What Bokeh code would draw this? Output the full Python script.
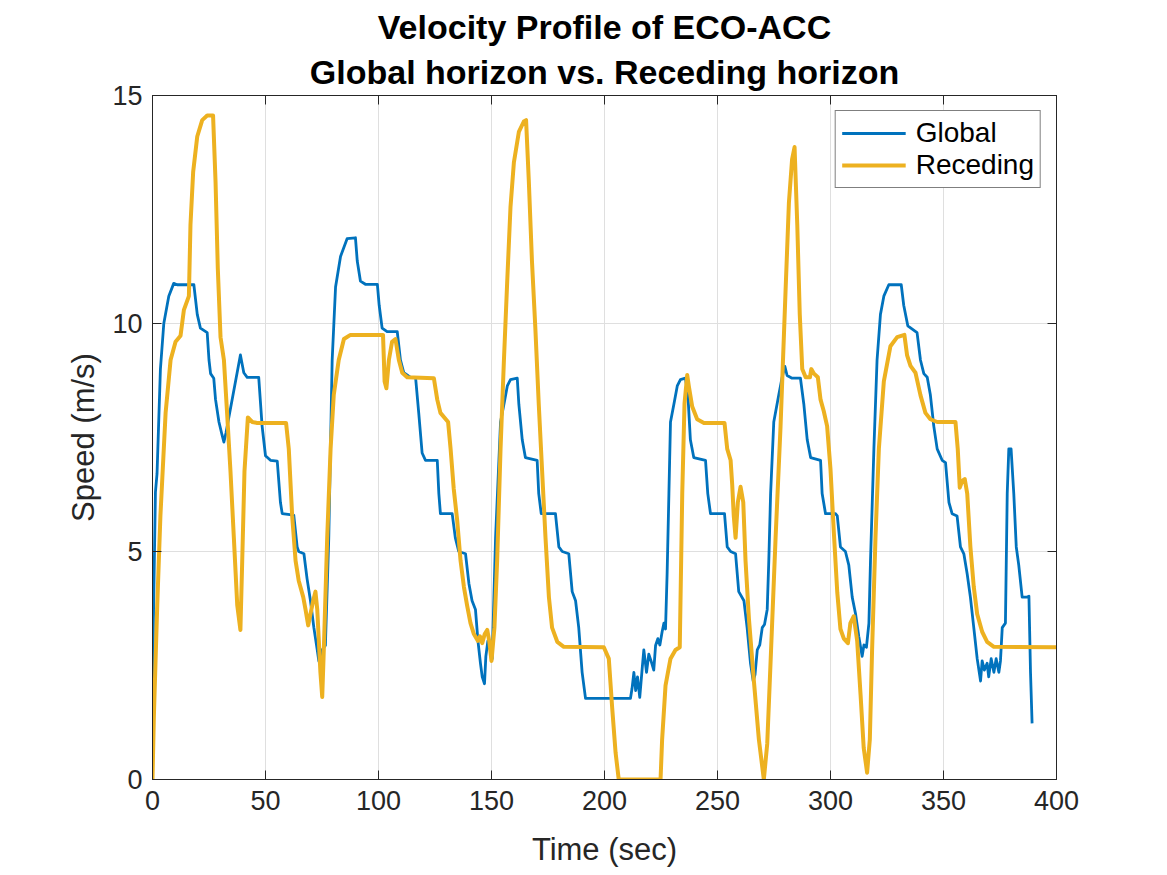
from bokeh.plotting import figure
from bokeh.models import (Range1d, LinearAxis, Title, Legend, LegendItem,
                          FixedTicker, CustomJSTickFormatter)
from bokeh.embed import file_html
from bokeh.resources import INLINE

# ---------------- data ----------------
global_t = [
    0, 0.4, 1.3, 2.0, 3.5, 5.0, 7.2, 9.4, 10.9, 18.3,
    19.8, 21.2, 24.2, 25.0, 25.7, 27.1, 27.9, 29.4, 30.8, 31.6,
    32.5, 38.9, 40.4, 41.9, 47.0, 48.5, 50.0, 52.2, 55.2, 56.6,
    57.4, 62.5, 64.0, 64.7, 67.0, 68.4, 69.9, 71.4, 72.9, 73.6,
    75.0, 76.5, 78.0, 79.5, 81.0, 83.2, 86.1, 89.8, 90.6, 92.0,
    94.2, 99.5, 100.3, 101.6, 103.8, 108.3, 109.7, 111.2, 114.2, 116.4,
    117.8, 119.3, 120.8, 126.0, 126.7, 127.4, 132.6, 134.0, 135.5, 138.5,
    140.0, 141.4, 142.9, 144.0, 145.1, 145.9, 146.9, 147.5, 148.4, 149.4,
    150.3, 151.8, 154.0, 155.5, 157.0, 158.4, 161.4, 162.1, 163.6, 165.0,
    170.2, 170.9, 172.0, 178.3, 179.8, 181.3, 184.2, 185.7, 187.2, 188.6,
    190.1, 191.6, 211.5, 212.2, 213.0, 213.8, 214.6, 215.6, 216.7, 217.4,
    218.6, 219.6, 220.6, 221.8, 222.6, 223.6, 224.5, 225.5, 226.3, 227.0,
    227.7, 228.5, 229.2, 230.7, 232.2, 233.6, 235.8, 236.9, 238.0, 239.5,
    244.7, 245.7, 246.9, 253.1, 254.3, 255.8, 258.0, 259.4, 261.7, 263.1,
    264.6, 265.8, 266.6, 267.6, 268.7, 269.8, 270.8, 272.0, 272.7, 273.5,
    274.9, 277.1, 278.6, 279.8, 280.8, 283.0, 286.7, 288.2, 289.7, 291.2,
    295.6, 296.3, 297.8, 302.2, 303.0, 304.4, 306.6, 308.1, 309.6, 311.1,
    312.5, 314.0, 314.8, 315.9, 317.0, 317.7, 319.2, 320.6, 322.1, 323.6,
    325.8, 331.3, 332.4, 334.2, 338.3, 339.8, 341.3, 342.8, 344.2, 345.7,
    347.2, 349.4, 350.9, 352.4, 353.8, 356.0, 357.5, 359.0, 360.5, 361.9,
    363.4, 364.9, 366.4, 367.1, 368.1, 369.3, 370.0, 371.1, 372.3, 373.3,
    374.5, 375.2, 376.0, 377.4, 378.2, 378.9, 379.9, 381.1, 382.2, 383.3,
    384.8, 387.0, 387.8, 388.5, 389.2,
]
global_v = [
    1.0, 3.5, 6.3, 6.7, 9.0, 10.0, 10.6, 10.88, 10.85, 10.85,
    10.2, 9.9, 9.8, 9.2, 8.9, 8.8, 8.33, 7.84, 7.55, 7.4,
    7.6, 9.31, 8.92, 8.82, 8.82, 7.75, 7.1, 7.0, 6.98, 6.08,
    5.83, 5.8, 5.1, 5.0, 4.95, 4.4, 3.92, 3.33, 2.84, 2.6,
    2.84, 2.94, 5.3, 9.2, 10.8, 11.47, 11.86, 11.88, 11.37, 10.93,
    10.86, 10.86, 10.4, 9.9, 9.82, 9.82, 9.2, 8.92, 8.82, 8.82,
    8.04, 7.16, 7.0, 7.0, 6.27, 5.83, 5.83, 5.3, 5.0, 4.95,
    4.3, 3.92, 3.73, 3.04, 2.55, 2.25, 2.1, 2.7, 3.04, 2.85,
    2.65, 5.3, 7.84, 8.23, 8.63, 8.77, 8.8, 8.23, 7.45, 7.06,
    7.0, 6.27, 5.83, 5.83, 5.1, 5.0, 4.95, 4.12, 3.92, 3.33,
    2.35, 1.78, 1.78, 2.0, 2.35, 1.95, 2.25, 1.8, 2.45, 2.84,
    2.35, 2.75, 2.6, 2.4, 2.94, 3.09, 2.95, 3.24, 3.43, 3.3,
    4.5, 6.27, 7.84, 8.23, 8.63, 8.77, 8.8, 8.43, 7.45, 7.06,
    7.0, 6.27, 5.83, 5.83, 5.1, 5.0, 4.95, 4.12, 3.92, 3.33,
    2.55, 2.16, 2.3, 2.84, 2.95, 3.33, 3.4, 3.73, 4.8, 6.27,
    7.84, 8.43, 8.82, 9.06, 8.86, 8.8, 8.8, 8.23, 7.45, 7.06,
    7.0, 6.27, 5.83, 5.83, 5.78, 5.1, 5.0, 4.7, 4.0, 3.63,
    3.14, 2.7, 2.95, 2.9, 3.43, 4.8, 7.25, 9.2, 10.2, 10.6,
    10.85, 10.85, 10.4, 9.95, 9.8, 9.2, 8.9, 8.82, 8.43, 7.75,
    7.25, 7.0, 6.95, 6.08, 5.83, 5.78, 5.1, 4.95, 4.5, 4.0,
    3.33, 2.65, 2.16, 2.6, 2.4, 2.55, 2.25, 2.65, 2.35, 2.65,
    2.35, 2.6, 3.33, 3.43, 6.27, 7.25, 7.25, 6.27, 5.1, 4.7,
    4.0, 4.0, 4.02, 2.35, 1.23,
]

receding_t = [
    0, 0.6, 2.1, 3.5, 5.8, 8.0, 10.2, 12.4, 13.9, 16.1,
    16.8, 18.0, 19.8, 22.0, 24.2, 26.8, 27.9, 28.9, 30.1, 31.6,
    33.0, 34.5, 36.0, 37.5, 38.9, 39.7, 40.7, 42.2, 44.1, 46.3,
    59.1, 60.3, 61.8, 63.3, 64.7, 66.7, 67.7, 68.9, 69.9, 71.1,
    72.1, 72.9, 74.3, 75.1, 75.8, 77.3, 78.8, 80.2, 82.4, 84.7,
    87.6, 102.0, 102.7, 103.5, 104.6, 106.0, 107.5, 109.0, 110.5, 112.7,
    124.5, 126.0, 127.4, 130.8, 131.9, 133.3, 134.8, 136.3, 137.8, 139.2,
    140.7, 142.2, 144.0, 144.9, 145.9, 147.0, 148.1, 149.0, 150.0, 151.3,
    152.5, 154.0, 155.5, 157.0, 158.4, 159.9, 162.1, 164.3, 165.3, 166.5,
    167.9, 169.4, 170.9, 172.4, 173.9, 175.4, 176.8, 179.1, 182.0, 199.7,
    201.9, 203.4, 204.9, 206.3, 224.8, 225.5, 227.0, 229.2, 231.4, 233.3,
    234.4, 235.4, 236.6, 237.3, 238.8, 241.0, 244.0, 253.1, 254.3, 255.8,
    256.5, 257.2, 258.0, 259.0, 260.2, 261.4, 262.4, 263.9, 266.1, 268.3,
    270.5, 272.0, 273.7, 275.7, 277.9, 280.1, 281.6, 283.0, 284.1, 285.3,
    286.4, 287.5, 289.0, 290.9, 291.5, 292.7, 294.4, 295.6, 297.0, 298.5,
    300.0, 301.5, 303.0, 304.4, 305.9, 307.7, 308.8, 310.3, 311.8, 313.3,
    314.7, 316.2, 317.4, 318.4, 319.9, 321.4, 323.6, 326.5, 329.5, 332.7,
    333.9, 335.4, 337.6, 339.8, 342.0, 344.2, 347.2, 355.3, 356.3, 357.2,
    358.3, 359.4, 360.5, 361.9, 363.4, 364.9, 367.1, 369.3, 372.3, 400.0,
]
receding_v = [
    0.0, 1.37, 3.82, 5.78, 8.04, 9.2, 9.6, 9.73, 10.3, 10.6,
    12.16, 13.33, 14.1, 14.46, 14.56, 14.56, 13.1, 11.2, 9.7, 9.2,
    8.04, 6.76, 5.3, 3.82, 3.28, 4.8, 6.76, 7.94, 7.84, 7.82,
    7.82, 7.25, 5.78, 4.8, 4.36, 4.0, 3.73, 3.38, 3.63, 3.92,
    4.12, 3.73, 2.35, 1.81, 2.84, 5.3, 7.25, 8.43, 9.2, 9.66,
    9.75, 9.75, 8.73, 8.58, 9.2, 9.6, 9.66, 9.2, 8.92, 8.82,
    8.8, 8.33, 8.04, 7.84, 7.25, 6.37, 5.69, 4.8, 4.22, 3.82,
    3.43, 3.19, 3.04, 3.14, 2.99, 3.19, 3.28, 3.04, 2.6, 3.33,
    4.8, 7.25, 9.2, 10.98, 12.55, 13.53, 14.2, 14.43, 14.46, 13.14,
    11.37, 9.9, 8.24, 6.76, 5.3, 4.0, 3.33, 3.02, 2.91, 2.9,
    2.65, 1.57, 0.59, 0.0, 0.0, 0.88, 2.06, 2.65, 2.84, 2.9,
    6.27, 8.24, 8.87, 8.63, 8.18, 7.9, 7.82, 7.82, 7.25, 7.0,
    6.47, 5.78, 5.3, 6.08, 6.42, 6.08, 4.8, 3.53, 2.16, 0.88,
    0.0, 0.78, 2.84, 5.3, 7.75, 10.7, 12.65, 13.6, 13.87, 12.16,
    10.2, 9.0, 8.82, 8.82, 9.0, 8.9, 8.82, 8.33, 8.08, 7.75,
    6.8, 5.4, 4.1, 3.3, 3.09, 2.99, 3.43, 3.58, 3.04, 1.86,
    0.69, 0.15, 0.88, 2.84, 5.3, 7.25, 8.73, 9.5, 9.7, 9.75,
    9.3, 9.07, 8.92, 8.43, 8.04, 7.9, 7.84, 7.84, 7.25, 6.4,
    6.55, 6.59, 6.27, 5.1, 4.22, 3.63, 3.24, 3.02, 2.91, 2.9,
]

series_names = ["Global", "Receding"]
x_ticks = [0, 50, 100, 150, 200, 250, 300, 350, 400]
y_ticks = [0, 5, 10, 15]
title_lines = ["Velocity Profile of ECO-ACC", "Global horizon vs. Receding horizon"]
x_label = "Time (sec)"
y_label = "Speed (m/s)"

assert len(global_t) == len(global_v)
assert len(receding_t) == len(receding_v)

# ---------------- styling ----------------
FONT = "Liberation Sans"
TXT = "#262626"
BLUE = "#0072BD"
ORANGE = "#EDB120"
GRID = "#dfdfdf"

p = figure(frame_width=904, frame_height=684,
           min_border_left=152, min_border_right=111,
           min_border_top=95, min_border_bottom=96,
           x_range=Range1d(0, 400), y_range=Range1d(0, 15),
           output_backend="svg", toolbar_location=None, title=None,
           background_fill_color="white", border_fill_color="white")

p.outline_line_color = TXT
p.outline_line_width = 1

def style_axis(ax, ticks, show_labels=True):
    ax.ticker = FixedTicker(ticks=ticks)
    ax.axis_line_color = TXT
    ax.axis_line_width = 1
    ax.major_tick_line_color = TXT
    ax.major_tick_in = 9
    ax.major_tick_out = 0
    ax.minor_tick_line_color = None
    ax.major_label_text_font = FONT
    ax.major_label_text_font_size = "27px"
    ax.major_label_text_color = TXT
    ax.axis_label_text_font = FONT
    ax.axis_label_text_font_size = "31px"
    ax.axis_label_text_font_style = "normal"
    ax.axis_label_text_color = TXT
    if not show_labels:
        ax.formatter = CustomJSTickFormatter(code="return ''")
        ax.major_label_standoff = 0

xa = p.xaxis[0]
style_axis(xa, x_ticks)
xa.axis_label = x_label
xa.major_label_standoff = 11
xa.axis_label_standoff = 19

ya = p.yaxis[0]
style_axis(ya, y_ticks)
ya.axis_label = y_label
ya.major_label_standoff = 10
ya.axis_label_standoff = 8

top = LinearAxis()
style_axis(top, x_ticks, show_labels=False)
p.add_layout(top, "above")
right = LinearAxis()
style_axis(right, y_ticks, show_labels=False)
p.add_layout(right, "right")

p.xgrid.ticker = FixedTicker(ticks=x_ticks)
p.ygrid.ticker = FixedTicker(ticks=y_ticks)
p.xgrid.grid_line_color = GRID
p.ygrid.grid_line_color = GRID

r_glob = p.line(global_t, global_v, line_color=BLUE, line_width=2.8,
                line_join="round")
r_rec = p.line(receding_t, receding_v, line_color=ORANGE, line_width=4,
               line_join="round")

legend = Legend(items=[LegendItem(label=series_names[0], renderers=[r_glob]),
                       LegendItem(label=series_names[1], renderers=[r_rec])],
                location="top_right")
legend.label_text_font = FONT
legend.label_text_font_size = "28px"
legend.label_text_color = "black"
legend.border_line_color = "black"
legend.border_line_width = 1
legend.background_fill_color = "white"
legend.background_fill_alpha = 1
legend.glyph_width = 64
legend.glyph_height = 20
legend.label_standoff = 10
legend.padding = 6
legend.spacing = 0
legend.margin = 15
p.add_layout(legend, "center")

t2 = Title(text=title_lines[1], align="center", text_font=FONT,
           text_font_size="34px", text_font_style="bold", text_color="black",
           standoff=10)
t1 = Title(text=title_lines[0], align="center", text_font=FONT,
           text_font_size="34px", text_font_style="bold", text_color="black",
           standoff=0)
p.add_layout(t2, "above")
p.add_layout(t1, "above")

open("out.html", "w").write(file_html(p, INLINE))
